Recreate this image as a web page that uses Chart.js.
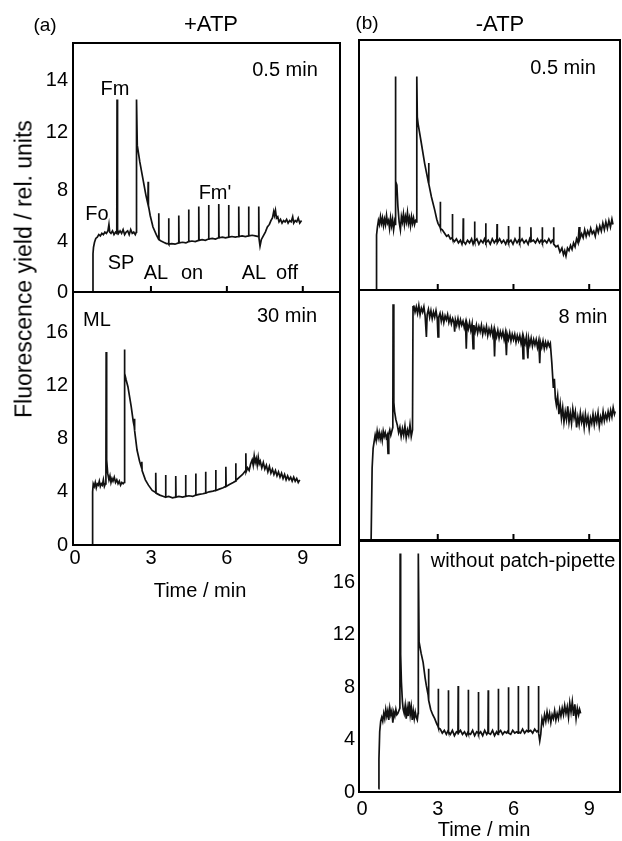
<!DOCTYPE html>
<html>
<head>
<meta charset="utf-8">
<script src="https://cdn.jsdelivr.net/npm/chart.js@4.4.1/dist/chart.umd.min.js"></script>
<style>
  html, body { margin: 0; padding: 0; background: #fff; }
  body { width: 622px; height: 841px; position: relative; overflow: hidden;
         font-family: 'Liberation Sans', Arial, sans-serif; color: #000; }
  canvas { position: absolute; }
  .t { position: absolute; transform: translate(-50%, -50%); line-height: 1;
       white-space: nowrap; font-size: 20px; }
</style>
</head>
<body>
<canvas id="a1" width="345" height="280" style="left:0;top:30px"></canvas>
<canvas id="a2" width="345" height="300" style="left:0;top:282px"></canvas>
<canvas id="b1" width="272" height="270" style="left:350px;top:30px"></canvas>
<canvas id="b2" width="272" height="270" style="left:350px;top:280px"></canvas>
<canvas id="b3" width="307" height="300" style="left:315px;top:531px"></canvas>

<div class="t" style="left:45px;top:24px;font-size:19px">(a)</div>
<div class="t" style="left:211px;top:24px;font-size:22px">+ATP</div>
<div class="t" style="left:367px;top:22px;font-size:19px">(b)</div>
<div class="t" style="left:500px;top:24px;font-size:22px">-ATP</div>
<div class="t" style="left:24px;top:269px;font-size:23px;transform:translate(-50%,-50%) rotate(-90deg)">Fluorescence yield / rel. units</div>
<div class="t" style="left:200px;top:590px">Time / min</div>
<div class="t" style="left:484px;top:829px">Time / min</div>

<div class="t" style="left:285px;top:69px">0.5 min</div>
<div class="t" style="left:115px;top:88px">Fm</div>
<div class="t" style="left:97px;top:213px">Fo</div>
<div class="t" style="left:121px;top:262px">SP</div>
<div class="t" style="left:156px;top:272px">AL</div>
<div class="t" style="left:192px;top:272px">on</div>
<div class="t" style="left:215px;top:192px">Fm'</div>
<div class="t" style="left:254px;top:272px">AL</div>
<div class="t" style="left:287px;top:272px">off</div>
<div class="t" style="left:97px;top:319px">ML</div>
<div class="t" style="left:287px;top:315px">30 min</div>
<div class="t" style="left:563px;top:67px">0.5 min</div>
<div class="t" style="left:583px;top:316px">8 min</div>
<div class="t" style="left:523px;top:560px">without patch-pipette</div>

<script>
// time ticks (min) and fluorescence ticks (rel. units)
const xTicks = [0, 3, 6, 9];
const yTicks = [0, 4, 8, 12, 16];
const yTickLabels = ['0', '4', '8', '12', '16'];
// top-left panel: printed labels sit at uneven positions in the original
const a1TickValues = [0, 4, 8, 12.5, 16.6];
const a1TickLabels = ['0', '4', '8', '12', '14'];
const innerTicks = [3, 6, 9];

// [time, yield]
const atpHalfMin = [
  [0.70,0],[0.71,3.0],[0.73,3.5],[0.77,3.9],[0.82,4.2],[0.88,4.3],[0.94,4.5],[1.00,4.4],[1.06,4.6],
  [1.12,4.5],[1.18,4.7],[1.24,4.6],[1.30,4.8],[1.34,5.3],[1.37,4.7],[1.42,4.6],[1.48,4.8],[1.54,4.5],
  [1.60,4.7],[1.65,4.6],[1.66,15.1],[1.68,4.9],[1.72,4.6],[1.78,4.8],[1.84,4.6],[1.90,4.9],[1.96,4.5],
  [2.02,4.7],[2.08,4.8],[2.14,4.5],[2.20,4.9],[2.26,4.6],[2.32,4.7],[2.38,4.5],[2.42,4.7],[2.43,15.1],
  [2.46,11.5],[2.56,10.2],[2.69,8.8],[2.80,7.6],[2.88,6.9],[2.89,8.65],[2.90,6.8],[2.97,6.0],[3.08,5.1],
  [3.21,4.5],[3.30,4.15],[3.31,6.17],[3.32,4.1],[3.40,4.0],[3.50,3.9],[3.61,3.8],[3.69,3.8],[3.70,5.78],
  [3.71,3.75],[3.82,3.8],[3.95,3.75],[4.09,3.85],[4.10,6.0],[4.11,3.85],[4.25,3.9],[4.38,3.85],[4.48,3.95],
  [4.49,6.48],[4.50,3.95],[4.62,4.0],[4.75,3.95],[4.88,4.05],[4.89,6.7],[4.90,4.05],[5.02,4.1],[5.15,4.05],
  [5.27,4.15],[5.28,6.82],[5.29,4.15],[5.42,4.2],[5.55,4.15],[5.67,4.25],[5.68,6.9],[5.69,4.25],[5.82,4.3],
  [5.95,4.25],[6.06,4.3],[6.07,6.82],[6.08,4.3],[6.20,4.35],[6.33,4.3],[6.46,4.35],[6.47,6.7],[6.48,4.35],
  [6.60,4.4],[6.73,4.35],[6.85,4.4],[6.86,6.7],[6.87,4.4],[7.00,4.45],[7.12,4.4],[7.25,4.35],[7.26,6.7],
  [7.27,4.2],[7.31,3.6],[7.36,4.1],[7.44,4.4],[7.52,4.7],[7.60,5.1],[7.68,5.3],[7.74,5.6],[7.80,5.8],
  [7.85,6.3],[7.88,6.0],[7.92,6.4],[7.96,5.8],[8.01,5.9],[8.06,5.5],[8.12,5.7],[8.18,5.4],[8.24,5.6],
  [8.30,5.5],[8.36,5.7],[8.42,5.4],[8.48,5.6],[8.54,5.5],[8.60,5.9],[8.64,5.4],[8.70,5.6],[8.76,5.5],
  [8.82,5.8],[8.88,5.4],[8.95,5.6]
];

const atpThirtyMin = [
  [0.68,0],[0.69,0],[0.70,4.0],[0.72,4.6],[0.76,4.4],[0.80,4.7],[0.84,4.3],[0.88,4.6],[0.92,4.5],
  [0.96,4.8],[1.00,4.4],[1.04,4.6],[1.08,4.5],[1.12,4.9],[1.16,4.4],[1.20,4.6],[1.22,4.7],[1.23,14.5],
  [1.25,6.4],[1.29,5.4],[1.34,4.9],[1.38,5.2],[1.42,4.7],[1.46,5.0],[1.50,4.8],[1.55,5.1],[1.60,4.7],
  [1.65,4.9],[1.70,4.6],[1.75,4.8],[1.80,4.5],[1.85,4.7],[1.90,4.6],[1.94,4.7],[1.95,14.7],[1.97,12.9],
  [2.02,12.4],[2.09,11.9],[2.22,10.4],[2.30,9.3],[2.34,8.9],[2.35,9.5],[2.36,8.6],[2.45,7.14],[2.55,6.3],
  [2.63,5.8],[2.64,6.26],[2.65,5.6],[2.78,4.9],[2.90,4.5],[3.05,4.1],[3.18,3.95],[3.19,5.44],[3.20,3.9],
  [3.35,3.75],[3.50,3.65],[3.57,3.6],[3.58,5.26],[3.59,3.6],[3.70,3.65],[3.85,3.55],[3.97,3.6],[3.98,5.18],
  [3.99,3.6],[4.10,3.65],[4.25,3.6],[4.36,3.65],[4.37,5.26],[4.38,3.65],[4.50,3.7],[4.65,3.65],[4.76,3.75],
  [4.77,5.38],[4.78,3.75],[4.90,3.8],[5.05,3.85],[5.15,3.9],[5.16,5.5],[5.17,3.9],[5.30,4.0],[5.45,4.05],
  [5.55,4.1],[5.56,5.64],[5.57,4.1],[5.70,4.2],[5.85,4.3],[5.95,4.4],[5.96,5.89],[5.97,4.4],[6.10,4.55],
  [6.25,4.7],[6.34,4.8],[6.35,6.14],[6.36,4.85],[6.50,5.1],[6.62,5.3],[6.74,5.6],[6.75,6.9],[6.76,5.5],
  [6.82,5.8],[6.88,5.6],[6.94,6.1],[7.00,6.4],[7.04,6.0],[7.08,6.7],[7.12,6.2],[7.16,6.5],[7.20,6.0],
  [7.24,6.6],[7.28,6.1],[7.32,6.3],[7.38,5.8],[7.44,6.2],[7.50,5.7],[7.56,6.0],[7.62,5.5],[7.68,5.9],
  [7.74,5.4],[7.80,5.7],[7.86,5.3],[7.92,5.6],[7.98,5.2],[8.04,5.5],[8.10,5.1],[8.16,5.4],[8.22,5.0],
  [8.28,5.3],[8.34,4.9],[8.40,5.2],[8.46,4.9],[8.52,5.1],[8.58,4.8],[8.64,5.1],[8.70,4.8],[8.76,5.0],
  [8.82,4.7],[8.88,4.9]
];

const noAtpHalfMin = [
  [0.56,0],[0.57,0],[0.58,4.2],[0.61,4.8],[0.65,5.3],[0.69,5.0],[0.73,5.6],[0.77,5.1],[0.81,5.5],
  [0.85,4.9],[0.89,5.4],[0.93,5.0],[0.97,5.7],[1.01,5.1],[1.05,5.3],[1.09,4.7],[1.13,5.5],[1.17,4.9],
  [1.21,5.4],[1.25,4.6],[1.29,5.2],[1.31,5.0],[1.32,16.3],[1.34,8.3],[1.38,8.0],[1.42,6.4],[1.47,5.2],
  [1.52,4.6],[1.56,5.6],[1.60,5.2],[1.64,5.8],[1.68,5.0],[1.72,5.6],[1.76,5.2],[1.80,5.9],[1.84,5.1],
  [1.88,5.5],[1.92,4.9],[1.96,5.6],[2.00,5.1],[2.04,5.5],[2.08,5.0],[2.12,5.3],[2.16,5.2],[2.17,16.3],
  [2.19,13.2],[2.22,12.7],[2.35,11.2],[2.48,9.67],[2.60,8.5],[2.63,8.2],[2.64,9.7],[2.65,8.1],[2.75,7.1],
  [2.88,6.1],[2.96,5.4],[3.01,5.09],[3.09,4.8],[3.10,6.74],[3.11,4.7],[3.18,4.6],[3.27,4.33],[3.35,4.1],
  [3.42,4.2],[3.50,3.9],[3.57,4.0],[3.58,5.8],[3.59,3.9],[3.66,3.7],[3.74,3.9],[3.82,3.6],[3.90,3.8],
  [3.96,3.5],[4.00,3.8],[4.01,5.47],[4.02,3.7],[4.10,3.5],[4.18,3.8],[4.26,3.6],[4.34,3.9],[4.40,3.5],
  [4.45,3.8],[4.46,5.22],[4.47,3.7],[4.55,3.9],[4.63,3.5],[4.71,3.8],[4.79,3.6],[4.85,3.9],[4.89,3.7],
  [4.90,5.09],[4.91,3.6],[5.00,3.8],[5.08,3.5],[5.16,3.9],[5.24,3.6],[5.30,3.8],[5.34,3.7],[5.35,5.04],
  [5.36,3.6],[5.45,3.9],[5.53,3.6],[5.61,3.8],[5.69,3.5],[5.75,3.8],[5.79,3.7],[5.80,4.89],[5.81,3.6],
  [5.90,3.8],[5.98,3.5],[6.06,3.9],[6.14,3.6],[6.20,3.8],[6.23,3.7],[6.24,4.83],[6.25,3.6],[6.34,3.9],
  [6.42,3.6],[6.50,3.8],[6.58,3.5],[6.64,3.9],[6.68,3.7],[6.69,4.78],[6.70,3.7],[6.79,3.8],[6.87,3.6],
  [6.95,3.9],[7.03,3.6],[7.09,3.8],[7.13,3.7],[7.14,4.78],[7.15,3.6],[7.24,3.8],[7.32,3.6],[7.40,3.9],
  [7.48,3.6],[7.54,3.8],[7.58,3.7],[7.59,4.78],[7.60,3.5],[7.68,3.3],[7.76,3.4],[7.84,2.9],[7.92,3.2],
  [7.98,2.7],[8.03,3.0],[8.08,2.6],[8.14,3.2],[8.20,3.0],[8.26,3.4],[8.32,3.1],[8.38,3.6],[8.44,3.3],
  [8.50,3.9],[8.56,3.6],[8.60,4.8],[8.63,3.9],[8.70,4.3],[8.76,4.0],[8.82,4.6],[8.88,4.1],[8.94,4.5],
  [9.00,4.2],[9.06,4.7],[9.12,4.3],[9.18,4.5],[9.24,4.1],[9.30,4.8],[9.36,4.4],[9.42,4.9],[9.48,4.5],
  [9.54,5.1],[9.60,4.6],[9.66,5.2],[9.72,4.7],[9.78,5.3],[9.84,4.8],[9.90,5.4],[9.94,5.0]
];

const noAtpEightMin = [
  [0.36,0],[0.37,0],[0.40,5.5],[0.44,7.0],[0.48,7.5],[0.52,8.0],[0.56,7.6],[0.60,8.3],[0.64,7.8],
  [0.68,8.2],[0.72,7.7],[0.76,8.1],[0.80,7.6],[0.84,8.3],[0.88,7.9],[0.92,8.2],[0.96,7.8],[1.00,8.0],
  [1.03,6.6],[1.06,8.1],[1.10,8.4],[1.14,8.0],[1.18,8.3],[1.22,8.6],[1.23,18.0],[1.26,10.5],[1.29,9.8],
  [1.34,9.2],[1.40,8.75],[1.45,8.2],[1.50,8.6],[1.55,7.9],[1.60,8.5],[1.65,8.0],[1.70,8.7],[1.75,7.8],
  [1.80,8.4],[1.85,8.0],[1.90,8.8],[1.95,7.9],[2.00,8.4],[2.02,17.8],[2.05,17.9],[2.10,17.4],[2.15,17.8],
  [2.20,17.3],[2.25,17.9],[2.30,17.2],[2.35,17.7],[2.40,17.4],[2.45,17.8],[2.50,17.1],[2.55,15.5],[2.58,17.2],
  [2.63,17.6],[2.68,17.0],[2.73,17.5],[2.78,16.9],[2.83,17.4],[2.88,17.0],[2.93,17.5],[2.98,16.9],[3.01,15.5],
  [3.04,17.0],[3.09,17.3],[3.14,16.7],[3.19,17.2],[3.24,16.6],[3.29,17.1],[3.34,16.8],[3.39,17.2],[3.44,16.6],
  [3.49,17.0],[3.54,16.5],[3.59,16.9],[3.64,16.6],[3.67,15.9],[3.70,16.8],[3.75,16.4],[3.80,16.9],[3.85,16.3],
  [3.90,16.8],[3.95,16.4],[4.00,16.7],[4.05,16.2],[4.10,16.6],[4.13,14.6],[4.16,16.5],[4.21,16.1],[4.26,16.6],
  [4.31,16.0],[4.36,16.5],[4.40,14.6],[4.43,16.4],[4.48,15.9],[4.53,16.4],[4.58,15.8],[4.63,16.3],[4.68,15.9],
  [4.73,16.4],[4.78,15.7],[4.83,16.2],[4.88,15.8],[4.93,16.3],[4.98,15.6],[5.03,16.1],[5.08,15.7],[5.13,16.2],
  [5.18,15.6],[5.22,16.0],[5.25,14.0],[5.28,15.9],[5.33,15.5],[5.38,16.0],[5.43,15.4],[5.48,15.9],[5.53,15.5],
  [5.58,15.9],[5.63,15.3],[5.68,15.8],[5.72,14.1],[5.75,15.7],[5.80,15.3],[5.85,15.8],[5.90,15.2],[5.95,15.7],
  [6.00,15.3],[6.05,15.7],[6.10,15.1],[6.15,15.6],[6.20,15.2],[6.25,15.6],[6.30,15.0],[6.35,15.5],[6.38,13.85],
  [6.41,15.4],[6.46,15.0],[6.51,15.5],[6.57,13.85],[6.60,15.4],[6.65,14.9],[6.70,15.4],[6.75,14.8],[6.80,15.3],
  [6.85,14.9],[6.90,15.3],[6.95,14.7],[7.00,15.2],[7.04,13.5],[7.07,15.1],[7.12,14.7],[7.17,15.2],[7.22,14.6],
  [7.27,15.1],[7.32,14.7],[7.37,15.1],[7.42,14.8],[7.46,15.0],[7.52,13.5],[7.58,11.6],[7.62,12.3],[7.66,10.8],
  [7.70,10.3],[7.75,11.0],[7.80,9.6],[7.85,10.4],[7.90,9.3],[7.95,10.1],[8.00,9.0],[8.05,9.8],[8.10,9.2],
  [8.15,10.2],[8.20,9.0],[8.25,9.7],[8.30,8.9],[8.35,10.0],[8.40,9.3],[8.45,9.8],[8.50,8.6],[8.55,9.4],
  [8.60,8.8],[8.65,9.7],[8.70,9.0],[8.75,9.5],[8.80,8.6],[8.85,9.6],[8.90,8.9],[8.95,9.4],[9.00,8.5],
  [9.05,9.3],[9.10,8.9],[9.15,9.6],[9.20,8.8],[9.25,9.5],[9.30,9.0],[9.35,9.7],[9.40,8.7],[9.45,9.4],
  [9.50,9.0],[9.55,9.8],[9.60,9.1],[9.65,9.6],[9.70,9.2],[9.75,9.8],[9.80,9.3],[9.85,9.9],[9.90,9.4],
  [9.95,10.1],[10.00,9.6],[10.03,9.8]
];

const noPipette = [
  [0.65,0.25],[0.67,2.5],[0.70,4.6],[0.74,5.4],[0.78,5.7],[0.82,5.4],[0.86,6.0],[0.90,5.6],[0.94,6.3],
  [0.98,5.8],[1.02,6.2],[1.06,5.5],[1.10,6.4],[1.14,5.9],[1.18,6.2],[1.22,5.3],[1.26,6.1],[1.30,5.8],
  [1.34,6.3],[1.38,5.9],[1.42,6.0],[1.46,6.2],[1.50,6.4],[1.51,18.2],[1.53,10.5],[1.56,8.4],[1.60,6.9],
  [1.63,6.3],[1.67,6.0],[1.71,6.6],[1.75,5.6],[1.79,6.4],[1.83,5.8],[1.87,6.9],[1.91,5.9],[1.95,6.5],
  [1.99,5.5],[2.03,6.2],[2.07,5.6],[2.11,6.1],[2.15,5.7],[2.19,5.5],[2.22,6.0],[2.23,18.2],[2.26,11.45],
  [2.34,10.6],[2.42,9.9],[2.50,8.7],[2.55,8.1],[2.62,7.4],[2.63,7.2],[2.64,9.41],[2.65,7.0],[2.72,6.3],
  [2.80,5.9],[2.88,5.6],[2.96,5.2],[3.01,5.0],[3.02,7.89],[3.03,4.9],[3.10,4.8],[3.18,4.5],[3.26,4.7],
  [3.34,4.4],[3.41,4.7],[3.42,7.76],[3.43,4.6],[3.50,4.4],[3.58,4.7],[3.66,4.3],[3.74,4.6],[3.80,4.5],
  [3.81,8.09],[3.82,4.5],[3.90,4.7],[3.98,4.4],[4.06,4.6],[4.14,4.3],[4.20,4.6],[4.21,7.8],[4.22,4.5],
  [4.30,4.4],[4.38,4.7],[4.46,4.3],[4.54,4.6],[4.60,4.5],[4.61,7.63],[4.62,4.4],[4.70,4.6],[4.78,4.3],
  [4.86,4.7],[4.94,4.4],[4.99,4.6],[5.00,7.76],[5.01,4.5],[5.09,4.4],[5.17,4.7],[5.25,4.3],[5.33,4.6],
  [5.39,4.4],[5.40,7.89],[5.41,4.5],[5.49,4.7],[5.57,4.4],[5.65,4.6],[5.73,4.5],[5.79,4.7],[5.80,8.0],
  [5.81,4.5],[5.89,4.4],[5.97,4.7],[6.05,4.5],[6.13,4.6],[6.18,4.5],[6.19,8.09],[6.20,4.6],[6.28,4.5],
  [6.36,4.8],[6.44,4.5],[6.52,4.7],[6.58,4.6],[6.59,8.09],[6.60,4.6],[6.68,4.7],[6.76,4.5],[6.84,4.8],
  [6.92,4.6],[6.98,4.7],[6.99,8.09],[7.00,4.5],[7.04,3.9],[7.08,4.4],[7.13,5.6],[7.18,5.2],[7.23,5.9],
  [7.28,5.4],[7.33,6.1],[7.38,5.5],[7.43,6.0],[7.48,5.3],[7.53,5.9],[7.58,5.6],[7.63,6.2],[7.68,5.5],
  [7.73,6.0],[7.78,5.6],[7.83,6.3],[7.88,5.8],[7.93,6.4],[7.98,5.9],[8.03,6.6],[8.08,6.0],[8.13,6.5],
  [8.18,5.7],[8.23,6.8],[8.28,6.1],[8.33,6.9],[8.38,5.8],[8.43,6.7],[8.48,5.6],[8.53,6.4],[8.58,5.9],
  [8.62,6.3],[8.66,6.0]
];

const tickFont = { family: "'Liberation Sans', Arial, sans-serif", size: 20 };

// box around each panel plus the short inward time ticks
const frame = {
  id: 'frame',
  afterDraw(chart, args, opts) {
    const { ctx, chartArea: a } = chart;
    ctx.save();
    ctx.strokeStyle = '#000';
    ctx.lineWidth = 2;
    ctx.strokeRect(a.left, a.top, a.right - a.left, a.bottom - a.top);
    if (opts.inner) {
      ctx.beginPath();
      innerTicks.forEach(v => {
        const x = chart.scales.x.getPixelForValue(v);
        ctx.moveTo(x, a.bottom);
        ctx.lineTo(x, a.bottom - 6);
      });
      ctx.stroke();
    }
    ctx.restore();
  }
};

function panel(id, points, cfg) {
  const yVals = cfg.yVals || yTicks;
  const yLabels = cfg.yLabels || yTickLabels;
  return new Chart(document.getElementById(id), {
    type: 'scatter',
    data: {
      datasets: [{
        data: points.map(p => ({ x: p[0], y: p[1] })),
        showLine: true,
        borderColor: '#111',
        borderWidth: 1.7,
        pointRadius: 0,
        tension: 0,
      }],
    },
    options: {
      responsive: false,
      animation: false,
      devicePixelRatio: 1,
      layout: { padding: cfg.pad },
      plugins: {
        legend: { display: false },
        tooltip: { enabled: false },
        frame: { inner: !!cfg.inner },
      },
      scales: {
        x: {
          type: 'linear',
          min: cfg.xMin,
          max: cfg.xMax,
          display: !!cfg.xShown,
          grid: { display: false, drawTicks: false },
          border: { display: false },
          ticks: { color: '#000', font: tickFont, padding: cfg.xPad || 0, maxRotation: 0, autoSkip: false },
          afterBuildTicks: s => { s.ticks = xTicks.map(v => ({ value: v })); },
          afterFit: s => {
            s.height = cfg.xShown ? 30 : 0;
            s.paddingLeft = 0;
            s.paddingRight = 0;
          },
        },
        y: {
          type: 'linear',
          min: 0,
          max: cfg.yMax,
          display: !!cfg.yShown,
          grid: { display: false, drawTicks: false },
          border: { display: false },
          ticks: {
            color: '#000', font: tickFont, padding: cfg.yPad || 0, autoSkip: false,
            callback: (v, i) => yLabels[i],
          },
          afterBuildTicks: s => { s.ticks = yVals.map(v => ({ value: v })); },
          afterFit: s => { s.width = cfg.yShown ? cfg.yWidth : 0; s.paddingTop = 0; s.paddingBottom = 0; },
        },
      },
    },
    plugins: [frame],
  });
}

panel('a1', atpHalfMin, {
  pad: { left: 0, top: 13, right: 5, bottom: 18 },
  xMin: -0.08, xMax: 10.47, yMax: 19.53,
  yShown: true, yWidth: 73, yPad: 5,
  yVals: a1TickValues, yLabels: a1TickLabels, inner: true,
});
panel('a2', atpThirtyMin, {
  pad: { left: 0, top: 10, right: 5, bottom: 7 },
  xMin: -0.08, xMax: 10.47, yMax: 19.02,
  yShown: true, yWidth: 73, yPad: 5, xShown: true, xPad: 1,
});
panel('b1', noAtpHalfMin, {
  pad: { left: 9, top: 10, right: 2, bottom: 10 },
  xMin: -0.12, xMax: 10.22, yMax: 19.08, inner: true,
});
panel('b2', noAtpEightMin, {
  pad: { left: 9, top: 10, right: 2, bottom: 10 },
  xMin: -0.12, xMax: 10.22, yMax: 19.08, inner: true,
});
panel('b3', noPipette, {
  pad: { left: 4, top: 10, right: 2, bottom: 9 },
  xMin: -0.12, xMax: 10.22, yMax: 19.16,
  yShown: true, yWidth: 40, yPad: 4, xShown: true, xPad: 5,
});
</script>
</body>
</html>
